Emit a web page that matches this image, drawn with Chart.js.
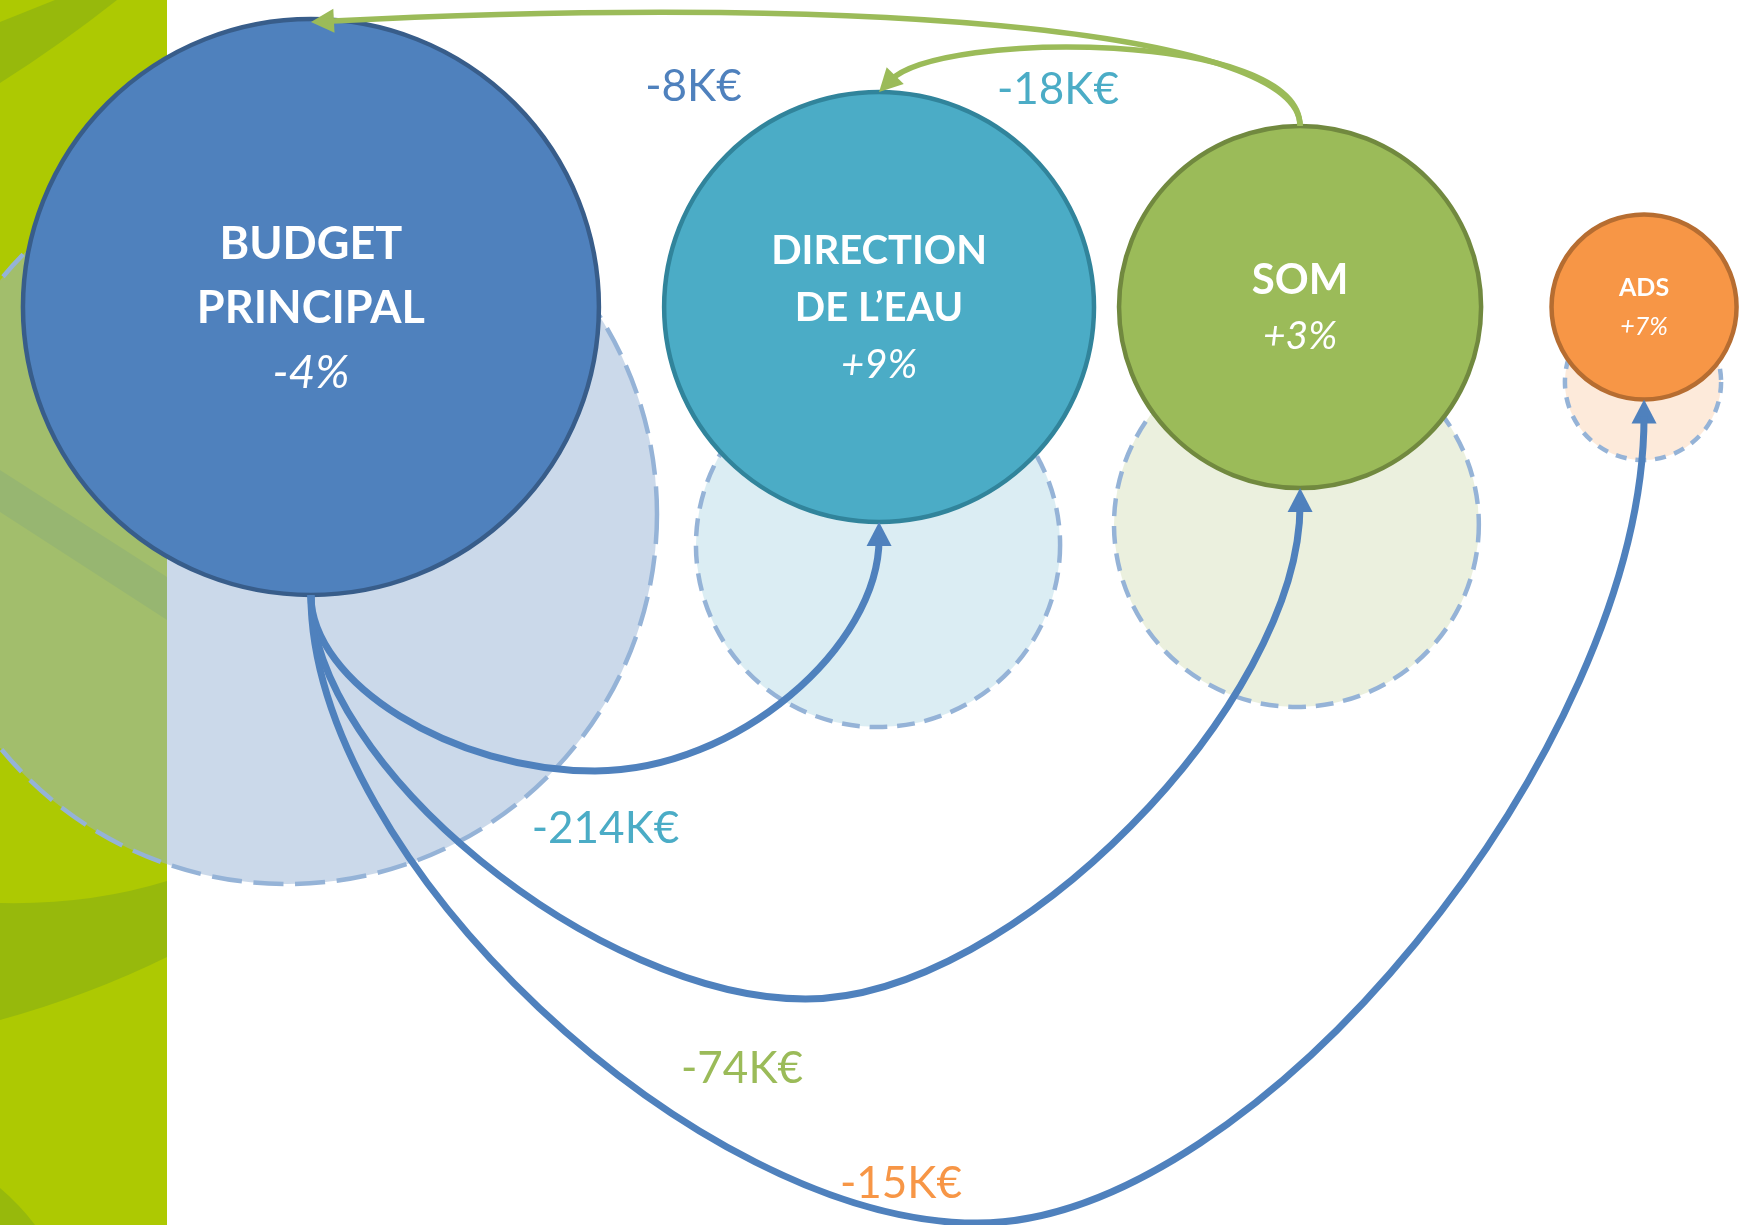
<!DOCTYPE html>
<html>
<head>
<meta charset="utf-8">
<script src="https://cdn.jsdelivr.net/npm/chart.js@4/dist/chart.umd.min.js"></script>
<style>
  html, body { margin: 0; padding: 0; background: #fff; overflow: hidden; }
  #flows { display: block; }
</style>
</head>
<body>
<canvas id="flows" width="1739" height="1225"></canvas>
<script>
// entities: this year (solid) and last year (dashed), in chart units (x 0-100, y 0-100 top-down)
const entityNames = [['BUDGET', 'PRINCIPAL'], ['DIRECTION', 'DE L\u2019EAU'], ['SOM'], ['ADS']];
const entityChange = ['-4%', '+9%', '+3%', '+7%'];
const entityX = [17.88, 50.55, 74.76, 94.54];
const entityY = [25.06, 25.06, 25.06, 25.06];
const entitySize = [16.56, 12.36, 10.41, 5.32];
const prevX = [16.5, 50.49, 74.55, 94.48];
const prevY = [41.96, 44.49, 42.82, 31.18];
const prevSize = [21.28, 10.47, 10.49, 4.49];

// transfers between entities
const flowFrom = [0, 0, 0, 2, 2];
const flowTo = [1, 2, 3, 0, 1];
const flowAmount = ['-214K\u20ac', '-74K\u20ac', '-15K\u20ac', '-8K\u20ac', '-18K\u20ac'];

const fillNow = ['#4f81bd', '#4bacc6', '#9bbb59', '#f79646'];
const borderNow = ['#385d8a', '#31849b', '#71893f', '#b66d31'];
const fillPrev = ['rgba(151,179,213,0.5)', 'rgba(183,219,231,0.5)', 'rgba(215,225,189,0.5)', 'rgba(251,213,181,0.5)'];

const ctx = document.getElementById('flows').getContext('2d');

// sizes are in x-axis units (x runs 0-100 across the full width)
function sizePx(c) {
    return c.raw ? c.raw.s * c.chart.width / 100 : 0;
}

// green band on the left, drawn behind everything
const bandPlugin = {
    id: 'band',
    beforeDatasetsDraw(chart) {
        const c = chart.ctx;
        const h = chart.height;
        const w = 167;
        c.save();
        c.fillStyle = '#fff';
        c.fillRect(0, 0, chart.width, h);
        c.beginPath();
        c.rect(0, 0, w, h);
        c.clip();
        c.fillStyle = '#adc902';
        c.fillRect(0, 0, w, h);
        c.fillStyle = '#97b90c';
        c.beginPath();
        c.moveTo(0, 22);
        c.quadraticCurveTo(25, 12, 55, 0);
        c.lineTo(117, 0);
        c.quadraticCurveTo(60, 45, 0, 83);
        c.closePath();
        c.fill();
        c.beginPath();
        c.moveTo(0, 470);
        c.lineTo(w, 577);
        c.lineTo(w, 620);
        c.lineTo(0, 512);
        c.closePath();
        c.fill();
        c.beginPath();
        c.moveTo(0, 903);
        c.quadraticCurveTo(90, 905, w, 881);
        c.lineTo(w, 957);
        c.quadraticCurveTo(90, 995, 0, 1020);
        c.closePath();
        c.fill();
        c.beginPath();
        c.moveTo(0, 1188);
        c.quadraticCurveTo(20, 1205, 35, h);
        c.lineTo(0, h);
        c.closePath();
        c.fill();
        c.restore();
    }
};

// last-year circles get a dashed outline
const dashPlugin = {
    id: 'dashPrev',
    beforeDatasetDraw(chart, args) {
        if (args.index !== 1) return;
        const c = chart.ctx;
        args.meta.data.forEach((pt) => {
            const r = pt.options.radius;
            c.save();
            c.setLineDash([6 + r * 0.065, 8 + r * 0.01]);
            pt.draw(c, chart.chartArea);
            c.restore();
        });
        return false;
    }
};

function arrowHead(c, tip, from, len, half) {
    const dx = tip.x - from.x, dy = tip.y - from.y;
    const d = Math.hypot(dx, dy) || 1;
    const ux = dx / d, uy = dy / d;
    const bx = tip.x - ux * len, by = tip.y - uy * len;
    c.beginPath();
    c.moveTo(tip.x, tip.y);
    c.lineTo(bx - uy * half, by + ux * half);
    c.lineTo(bx + uy * half, by - ux * half);
    c.closePath();
    c.fill();
    return { x: tip.x - ux * len * 0.7, y: tip.y - uy * len * 0.7 };
}

// transfer arrows and their amounts
const flowPlugin = {
    id: 'flows',
    afterDatasetsDraw(chart, args, opts) {
        const c = chart.ctx;
        const sx = chart.scales.x, sy = chart.scales.y;
        const pts = chart.getDatasetMeta(0).data;
        c.save();
        c.lineCap = 'butt';
        flowFrom.forEach((f, i) => {
            const a = pts[f], b = pts[flowTo[i]];
            const ra = a.options.radius, rb = b.options.radius;
            const route = opts.routes[i];
            c.strokeStyle = fillNow[f];
            c.fillStyle = fillNow[f];
            c.lineWidth = route.width;
            if (route.kind === 'under') {
                const S = { x: a.x, y: a.y + ra };
                const T = { x: b.x, y: b.y + rb };
                const B = { x: (S.x + T.x) / 2, y: sy.getPixelForValue(route.sag) };
                const k = route.round;
                const c2 = { x: T.x, y: T.y + k * (B.y - T.y) };
                const end = arrowHead(c, T, c2, 24, 12.5);
                c.beginPath();
                c.moveTo(S.x, S.y);
                c.bezierCurveTo(S.x, S.y + k * (B.y - S.y), B.x - k * (B.x - S.x), B.y, B.x, B.y);
                c.bezierCurveTo(B.x + k * (T.x - B.x), B.y, c2.x, Math.max(c2.y, end.y), end.x, end.y);
                c.stroke();
            } else {
                const S = { x: a.x, y: a.y - ra };
                const T = { x: b.x, y: b.y - rb + route.gap };
                const p1 = { x: S.x, y: sy.getPixelForValue(route.c1) };
                const p2 = { x: S.x - route.pull * (S.x - T.x), y: sy.getPixelForValue(route.c2) };
                const end = arrowHead(c, T, p2, 23, 12);
                c.beginPath();
                c.moveTo(S.x, S.y);
                c.bezierCurveTo(p1.x, p1.y, p2.x, p2.y, end.x, end.y);
                c.stroke();
            }
        });
        // amounts
        c.font = '44px Lato';
        c.textAlign = 'center';
        c.textBaseline = 'alphabetic';
        flowAmount.forEach((txt, i) => {
            const p = opts.labelAt[i];
            c.fillStyle = fillNow[flowTo[i]];
            c.fillText(txt, sx.getPixelForValue(p[0]), sy.getPixelForValue(p[1]) + 44 * 0.36);
        });
        c.restore();
    }
};

// names and variations inside circles
const namePlugin = {
    id: 'names',
    afterDraw(chart, args, opts) {
        const c = chart.ctx;
        const pts = chart.getDatasetMeta(0).data;
        c.save();
        c.fillStyle = '#fff';
        c.textAlign = 'center';
        c.textBaseline = 'alphabetic';
        pts.forEach((pt, i) => {
            const lines = entityNames[i].concat([entityChange[i]]);
            const gap = opts.lineGap[i];
            lines.forEach((txt, j) => {
                const isPct = j === lines.length - 1;
                const size = isPct ? opts.pctSize[i] : opts.nameSize[i];
                c.font = (isPct ? 'italic ' : 'bold ') + size + 'px Lato';
                const y = pt.y + (j - (lines.length - 1) / 2) * gap + size * 0.36;
                c.fillText(txt, pt.x, y);
            });
        });
        c.restore();
    }
};

new Chart(ctx, {
    type: 'bubble',
    data: {
        datasets: [
            {
                label: 'Cette ann\u00e9e',
                data: entityX.map((x, i) => ({ x: x, y: entityY[i], s: entitySize[i] })),
                backgroundColor: fillNow,
                borderColor: borderNow,
                borderWidth: 4.5,
                radius: sizePx,
                clip: false
            },
            {
                label: 'Ann\u00e9e pr\u00e9c\u00e9dente',
                data: prevX.map((x, i) => ({ x: x, y: prevY[i], s: prevSize[i] })),
                backgroundColor: fillPrev,
                borderColor: '#95b3d7',
                borderWidth: 4.5,
                radius: sizePx,
                clip: false
            }
        ]
    },
    options: {
        responsive: false,
        animation: false,
        events: [],
        devicePixelRatio: 1,
        layout: { padding: 0, autoPadding: false },
        scales: {
            x: { type: 'linear', min: 0, max: 100, display: false },
            y: { type: 'linear', min: 0, max: 100, reverse: true, display: false }
        },
        plugins: {
            legend: { display: false },
            tooltip: { enabled: false },
            flows: {
                routes: [
                    { kind: 'under', sag: 62.94, round: 0.5, width: 7 },
                    { kind: 'under', sag: 81.55, round: 0.42, width: 7 },
                    { kind: 'under', sag: 99.84, round: 0.42, width: 7 },
                    { kind: 'over', c1: 2.86, c2: -0.65, pull: 0.405, gap: 3, width: 5.5 },
                    { kind: 'over', c1: 2.45, c2: 2.45, pull: 0.855, gap: 0, width: 5.5 }
                ],
                labelAt: [[34.82, 67.51], [42.67, 87.10], [51.81, 96.49], [39.88, 6.94], [60.84, 7.18]]
            },
            names: {
                nameSize: [45, 40, 42, 25],
                pctSize: [46, 40, 39, 25],
                lineGap: [64, 57, 56, 39]
            }
        }
    },
    plugins: [bandPlugin, dashPlugin, flowPlugin, namePlugin]
});
</script>
</body>
</html>
